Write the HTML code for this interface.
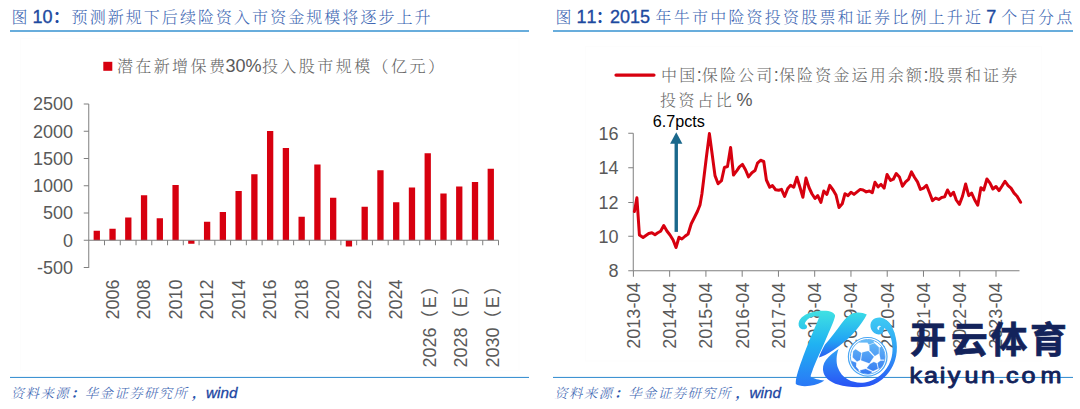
<!DOCTYPE html>
<html lang="zh-CN">
<head>
<meta charset="utf-8">
<title>图10 / 图11</title>
<style>
html,body{margin:0;padding:0;background:#fff;}
body{width:1080px;height:409px;overflow:hidden;position:relative;font-family:"Liberation Sans","Noto Sans CJK SC",sans-serif;}
svg{position:absolute;left:0;top:0;display:block;}
.kai{font-family:"Liberation Serif","Noto Serif CJK SC",serif;font-weight:300;}
.sans{font-family:"Liberation Sans","Noto Sans CJK SC",sans-serif;}
.ttl{font-size:16px;fill:#4067b3;}
.tb{font-family:"Liberation Sans","Noto Sans CJK SC",sans-serif;font-weight:normal;fill:#1d4aa0;stroke:#1d4aa0;stroke-width:0.35px;font-size:18px;}
.tc{font-family:"Liberation Sans","Noto Sans CJK SC",sans-serif;font-weight:bold;fill:#1d4aa0;font-size:16px;}
.src{font-size:13.4px;fill:#4067b3;font-style:italic;}
.sb{font-family:"Liberation Sans","Noto Sans CJK SC",sans-serif;fill:#1b45a2;stroke:#1b45a2;stroke-width:0.3px;font-style:italic;font-size:15.3px;}
.pn{font-weight:bold;fill:#2a55ad;}
.ax text{font-family:"Liberation Sans","Noto Sans CJK SC",sans-serif;font-size:18px;fill:#595959;}
.lg{font-size:16px;fill:#666;}
.ln{font-family:"Liberation Sans","Noto Sans CJK SC",sans-serif;font-size:18px;fill:#5a5a5a;}
</style>
</head>
<body>
<svg width="1080" height="409" viewBox="0 0 1080 409">
<defs>
<linearGradient id="gs" gradientUnits="userSpaceOnUse" x1="0" y1="310" x2="0" y2="386">
<stop offset="0" stop-color="#40e2e2"/><stop offset="0.45" stop-color="#20b2f2"/><stop offset="1" stop-color="#2a78f6"/>
</linearGradient>
<linearGradient id="ga" gradientUnits="userSpaceOnUse" x1="0" y1="312" x2="0" y2="358">
<stop offset="0" stop-color="#3adce6"/><stop offset="0.6" stop-color="#22a6f4"/><stop offset="1" stop-color="#2b5cf2"/>
</linearGradient>
<linearGradient id="gl" gradientUnits="userSpaceOnUse" x1="0" y1="318" x2="0" y2="387">
<stop offset="0" stop-color="#3ecaf3"/><stop offset="0.45" stop-color="#30a2f5"/><stop offset="1" stop-color="#2852f5"/>
</linearGradient>
<linearGradient id="gb" gradientUnits="userSpaceOnUse" x1="0" y1="339" x2="0" y2="375">
<stop offset="0" stop-color="#68bef7"/><stop offset="1" stop-color="#3478f2"/>
</linearGradient>
</defs>
<rect width="1080" height="409" fill="#fff"/>

<!-- chart frames (very faint) -->
<rect x="20.5" y="38.5" width="498.5" height="332" fill="#fff" stroke="#fdfdfd"/>
<rect x="585.5" y="46.5" width="456" height="314.5" fill="#fff" stroke="#fdfdfd"/>

<!-- titles -->
<text class="kai ttl" x="11.40 27.00 32.60 42.61 53.00 71.60 89.65 107.70 125.75 143.80 161.85 179.90 197.95 216.00 234.05 252.10 270.15 288.20 306.25 324.30 342.35 360.40 378.45 396.50 414.55" y="22.9">图 <tspan class="tb">10</tspan><tspan class="tc">：</tspan>预测新规下后续险资入市资金规模将逐步上升</text>
<text class="kai ttl" x="555.40 571.00 576.60 586.61 596.00 610.00 620.01 630.02 640.03 651.00 655.60 673.80 692.00 710.20 728.40 746.60 764.80 783.00 801.20 819.40 837.60 855.80 874.00 892.20 910.40 928.60 946.80 965.00 982.00 986.30 997.00 1001.30 1019.60 1037.90 1056.20" y="22.9">图 <tspan class="tb">11</tspan><tspan class="tc">：</tspan><tspan class="tb">2015</tspan> 年牛市中险资投资股票和证券比例上升近 <tspan class="tb">7</tspan> 个百分点</text>
<rect x="10" y="30" width="519" height="2" fill="#68addc"/>
<rect x="553" y="30" width="520" height="2" fill="#68addc"/>

<!-- bottom rules + source -->
<rect x="10" y="376.9" width="519" height="1.1" fill="#3f93d2"/>
<rect x="553" y="376.9" width="520" height="1.1" fill="#3f93d2"/>
<text class="kai src" x="10.80 25.60 40.40 55.20 70.40 84.80 99.60 114.40 129.20 144.00 158.80 173.60 192.00 206.00" y="398">资料来源<tspan class="pn">：</tspan>华金证券研究所<tspan class="pn">，</tspan><tspan class="sb">wind</tspan></text>
<text class="kai src" x="554.30 569.10 583.90 598.70 613.90 628.30 643.10 657.90 672.70 687.50 702.30 717.10 735.50 749.50" y="398">资料来源<tspan class="pn">：</tspan>华金证券研究所<tspan class="pn">，</tspan><tspan class="sb">wind</tspan></text>

<!-- ================= left chart ================= -->
<rect x="103.3" y="61.8" width="9" height="9" fill="#d7000f"/>
<text class="kai lg" x="116.90 135.30 153.70 172.10 190.50 208.90 225.60 235.61 245.62 261.90 280.35 298.80 317.25 335.70 354.15 372.60 391.05 409.50 427.95" y="72.1">潜在新增保费<tspan class="ln">30%</tspan>投入股市规模（亿元）</text>
<g fill="#d7000f"><rect x="93.63" y="230.75" width="6.3" height="9.50"/><rect x="109.39" y="228.75" width="6.3" height="11.50"/><rect x="125.15" y="217.50" width="6.3" height="22.75"/><rect x="140.91" y="195.25" width="6.3" height="45.00"/><rect x="156.67" y="218.25" width="6.3" height="22.00"/><rect x="172.43" y="185.00" width="6.3" height="55.25"/><rect x="188.19" y="240.25" width="6.3" height="3.50"/><rect x="203.95" y="221.75" width="6.3" height="18.50"/><rect x="219.71" y="212.00" width="6.3" height="28.25"/><rect x="235.47" y="191.00" width="6.3" height="49.25"/><rect x="251.23" y="174.25" width="6.3" height="66.00"/><rect x="266.99" y="131.00" width="6.3" height="109.25"/><rect x="282.75" y="148.00" width="6.3" height="92.25"/><rect x="298.50" y="216.75" width="6.3" height="23.50"/><rect x="314.26" y="164.50" width="6.3" height="75.75"/><rect x="330.02" y="197.75" width="6.3" height="42.50"/><rect x="345.78" y="240.25" width="6.3" height="6.25"/><rect x="361.54" y="206.75" width="6.3" height="33.50"/><rect x="377.30" y="170.25" width="6.3" height="70.00"/><rect x="393.06" y="202.25" width="6.3" height="38.00"/><rect x="408.82" y="187.50" width="6.3" height="52.75"/><rect x="424.58" y="153.25" width="6.3" height="87.00"/><rect x="440.34" y="193.50" width="6.3" height="46.75"/><rect x="456.10" y="186.50" width="6.3" height="53.75"/><rect x="471.86" y="182.00" width="6.3" height="58.25"/><rect x="487.62" y="168.75" width="6.3" height="71.50"/></g>
<path d="M88.75 104V268M88.75 240.25H498.5M83.75 104.00h5M83.75 131.25h5M83.75 158.50h5M83.75 185.75h5M83.75 213.00h5M83.75 240.25h5M83.75 267.50h5M104.51 240.25v5M120.27 240.25v5M136.03 240.25v5M151.79 240.25v5M167.55 240.25v5M183.31 240.25v5M199.07 240.25v5M214.83 240.25v5M230.59 240.25v5M246.35 240.25v5M262.11 240.25v5M277.87 240.25v5M293.62 240.25v5M309.38 240.25v5M325.14 240.25v5M340.90 240.25v5M356.66 240.25v5M372.42 240.25v5M388.18 240.25v5M403.94 240.25v5M419.70 240.25v5M435.46 240.25v5M451.22 240.25v5M466.98 240.25v5M482.74 240.25v5M498.50 240.25v5" stroke="#7f7f7f" stroke-width="1" fill="none"/>
<g class="ax"><text x="73" y="110.40" text-anchor="end">2500</text><text x="73" y="137.65" text-anchor="end">2000</text><text x="73" y="164.90" text-anchor="end">1500</text><text x="73" y="192.15" text-anchor="end">1000</text><text x="73" y="219.40" text-anchor="end">500</text><text x="73" y="246.65" text-anchor="end">0</text><text x="73" y="273.90" text-anchor="end">-500</text><text transform="translate(118.79 279.5) rotate(-90)" text-anchor="end">2006</text><text transform="translate(150.31 279.5) rotate(-90)" text-anchor="end">2008</text><text transform="translate(181.83 279.5) rotate(-90)" text-anchor="end">2010</text><text transform="translate(213.35 279.5) rotate(-90)" text-anchor="end">2012</text><text transform="translate(244.87 279.5) rotate(-90)" text-anchor="end">2014</text><text transform="translate(276.39 279.5) rotate(-90)" text-anchor="end">2016</text><text transform="translate(307.90 279.5) rotate(-90)" text-anchor="end">2018</text><text transform="translate(339.42 279.5) rotate(-90)" text-anchor="end">2020</text><text transform="translate(370.94 279.5) rotate(-90)" text-anchor="end">2022</text><text transform="translate(402.46 279.5) rotate(-90)" text-anchor="end">2024</text><g transform="translate(435.58 0) rotate(-90)"><text x="-327.5" text-anchor="end">2026</text><text x="-328.2" fill="#777">（</text><text x="-308.2" font-size="20">E</text><text x="-294.8" fill="#777">）</text></g><g transform="translate(467.10 0) rotate(-90)"><text x="-327.5" text-anchor="end">2028</text><text x="-328.2" fill="#777">（</text><text x="-308.2" font-size="20">E</text><text x="-294.8" fill="#777">）</text></g><g transform="translate(498.62 0) rotate(-90)"><text x="-327.5" text-anchor="end">2030</text><text x="-328.2" fill="#777">（</text><text x="-308.2" font-size="20">E</text><text x="-294.8" fill="#777">）</text></g></g>

<!-- ================= right chart ================= -->
<path d="M616 75.1H654" stroke="#d7000f" stroke-width="3.2" stroke-linecap="round"/>
<text class="kai lg" x="661.00 679.15 696.70 701.80 719.95 738.10 756.25 773.80 778.90 797.05 815.20 833.35 851.50 869.65 887.80 905.95 923.50 928.60 946.75 964.90 983.05 1001.20" y="81.1">中国<tspan class="ln">:</tspan>保险公司<tspan class="ln">:</tspan>保险资金运用余额<tspan class="ln">:</tspan>股票和证券</text>
<text class="kai lg" x="660.00 678.60 697.20 715.80 732.00 736.60" y="105.6">投资占比 <tspan class="ln">%</tspan></text>
<path d="M633.25 133.25V270.75H1019.5M628.25 133.25h5M628.25 167.75h5M628.25 202.50h5M628.25 236.25h5M628.25 270.75h5M633.40 270.75v6M669.66 270.75v6M705.92 270.75v6M742.18 270.75v6M778.44 270.75v6M814.70 270.75v6M850.96 270.75v6M887.22 270.75v6M923.48 270.75v6M959.74 270.75v6M996.00 270.75v6" stroke="#7f7f7f" stroke-width="1" fill="none"/>
<g class="ax"><text x="618.5" y="139.65" text-anchor="end">16</text><text x="618.5" y="174.15" text-anchor="end">14</text><text x="618.5" y="208.90" text-anchor="end">12</text><text x="618.5" y="242.65" text-anchor="end">10</text><text x="618.5" y="277.15" text-anchor="end">8</text><text transform="translate(639.80 282.6) rotate(-90)" text-anchor="end">2013-04</text><text transform="translate(676.06 282.6) rotate(-90)" text-anchor="end">2014-04</text><text transform="translate(712.32 282.6) rotate(-90)" text-anchor="end">2015-04</text><text transform="translate(748.58 282.6) rotate(-90)" text-anchor="end">2016-04</text><text transform="translate(784.84 282.6) rotate(-90)" text-anchor="end">2017-04</text><text transform="translate(821.10 282.6) rotate(-90)" text-anchor="end">2018-04</text><text transform="translate(857.36 282.6) rotate(-90)" text-anchor="end">2019-04</text><text transform="translate(893.62 282.6) rotate(-90)" text-anchor="end">2020-04</text><text transform="translate(929.88 282.6) rotate(-90)" text-anchor="end">2021-04</text><text transform="translate(966.14 282.6) rotate(-90)" text-anchor="end">2022-04</text><text transform="translate(1002.40 282.6) rotate(-90)" text-anchor="end">2023-04</text></g>
<polyline points="634.40,211.50 636.90,197.75 639.40,235.00 643.10,237.50 645.90,235.50 648.75,233.50 651.90,232.75 655.00,234.75 657.80,232.80 660.60,231.25 663.75,225.60 666.90,231.00 670.00,235.00 673.10,240.00 676.00,247.50 679.00,237.25 681.90,239.00 685.00,236.25 688.10,234.00 691.25,223.75 694.40,217.50 697.50,211.25 700.00,205.00 701.90,194.00 703.50,181.00 706.40,157.00 709.40,133.60 712.20,154.50 715.00,175.60 718.10,183.75 721.50,180.60 724.40,167.50 727.50,166.50 730.60,147.50 733.50,175.00 736.90,170.60 739.40,166.90 742.50,164.40 745.60,170.00 748.50,176.90 751.90,172.75 755.00,170.60 757.50,163.10 760.60,160.25 763.75,161.50 766.40,180.00 769.75,187.25 772.50,185.60 775.60,189.75 778.75,190.25 781.50,189.40 784.60,196.50 787.75,188.50 790.60,185.25 793.75,187.25 796.90,177.25 800.00,187.50 802.90,197.25 806.00,178.10 809.00,187.50 811.90,193.75 815.00,198.50 817.75,195.60 820.90,202.50 823.75,191.00 826.90,194.40 829.75,185.40 833.10,190.00 836.00,195.00 839.00,207.50 842.25,203.75 845.00,193.75 848.10,195.60 851.00,192.25 854.00,194.40 857.10,191.90 860.25,189.40 863.10,190.00 866.25,191.90 869.40,191.00 872.25,192.75 875.00,182.25 878.10,186.90 881.00,184.40 884.10,188.10 887.10,174.40 890.60,180.40 893.30,179.20 896.25,173.50 899.40,176.90 902.50,186.25 905.60,181.90 908.50,179.40 911.50,171.90 914.60,177.50 917.50,181.90 920.40,189.40 923.50,188.10 926.50,185.25 929.40,192.50 932.50,200.60 935.60,198.10 938.75,199.40 941.60,197.50 944.60,196.90 947.50,190.00 950.60,195.60 953.50,192.25 956.25,200.00 959.40,204.40 962.50,196.25 965.60,184.00 968.75,195.60 971.60,193.10 974.75,200.00 977.75,205.25 980.90,187.75 983.75,190.00 986.90,179.00 990.00,183.10 992.90,189.00 996.00,186.50 999.00,190.60 1001.90,186.25 1005.00,181.25 1008.10,185.60 1011.00,188.10 1014.10,193.10 1017.10,196.25 1020.60,202.25" fill="none" stroke="#d7000f" stroke-width="3" stroke-linejoin="round" stroke-linecap="round"/>
<path d="M676.25 231.9V142" stroke="#1a688c" stroke-width="3.4"/>
<path d="M676.25 132.2L682.4 143.8H670.1Z" fill="#1a688c"/>
<text class="sans" x="652.7" y="127" font-size="16.2" fill="#000">6.7pcts</text>

<!-- ================= watermark ================= -->
<g id="wm">
<!-- K stem -->
<path fill="url(#gs)" d="M807 327.2C806.6 329.4 803.2 330.1 800.6 328.5C798.6 327.1 798.1 324 799 321.4C800.5 317.4 805 314.2 811 312.4C818.5 310.4 828 310.3 831.5 311.9C834.3 313.2 835.4 314.8 835 316.5C833.5 322.5 830 329.5 825.8 339.5C821.5 350 815.5 362 813 369C811.7 372.8 810.6 375.6 810.6 376.6C813.5 378.8 819 380.2 824.4 380.5C821 383 816 384.8 810 385.8C804 386.7 798.5 386 795.8 384.1C795.6 381 796.2 378 797 375C799.5 366 804 354 808 344C811.5 335 816.5 324.5 819.3 316.8C816.5 315.6 812.5 316.2 809.5 318C806.5 320 804.8 322.4 804.8 324.2C806.1 324.3 807.2 325.6 807 327.2Z"/>
<!-- K arm -->
<path fill="url(#ga)" d="M866.8 314.4C864.5 319 860.5 325 855 331.5C849 338.5 841 345 833.5 350C827.5 354 822.5 356.5 818.9 357.6C820.5 353.5 822.5 349 825 344.6C830 339 836 331 841.5 323.5C845.5 318 849.5 314.5 853.6 313.1C857.5 311.8 863 312.4 866.8 314.4Z"/>
<!-- K leg + swirl -->
<path fill="url(#gl)" d="M838.6 348.9C834.5 351.5 829.5 355.5 826 360C823 364 822.2 368.5 823.6 373C825.5 378.5 830.5 382.2 838 384.6C846 387 856.5 387.6 865 386.8C871 386 877 383.4 882 379.4C888 374.6 892.5 368 895 360.5C896.8 355 897.3 348.5 896.6 342.5C895.8 336 894 330 891 325C888.5 321 885 318.4 881 317.7C877.5 317.2 874 318.4 872 320.8C870.2 323 870 326.5 871.2 329.3C872.5 332.2 875.5 334.3 878.6 334.6C881.5 334.8 883.5 332.5 884.4 328C886.5 329.5 889 333 890.4 336.5C891.6 339.8 892.3 343.5 892.5 347C892.7 351.5 892.2 356 890.8 360C888.8 366 885 371.5 880 375.6C875.5 379.2 870.5 381.6 865 382.4C859 383.2 853 382.4 848 379.6C843 376.8 839.5 372.4 837.8 367.4C836 362 836.2 355 838.6 348.9Z"/>
<path fill="#eef9ff" d="M881.2 326.2C879.8 325.2 878 325.6 877.4 327.2C876.9 328.8 877.8 330 879.3 330C878.6 328.6 879.3 326.8 881.2 326.2Z"/>
<!-- ball -->
<clipPath id="bc"><circle cx="867.7" cy="356.8" r="17.3"/></clipPath>
<circle cx="867.7" cy="356.8" r="19.3" fill="#fff" stroke="#4aa6f4" stroke-width="1.2"/>
<circle cx="867.7" cy="356.8" r="17.3" fill="#fff" stroke="#4aa6f4" stroke-width="0.9"/>
<g fill="url(#gb)" clip-path="url(#bc)" stroke="url(#gb)" stroke-width="0.2" stroke-linejoin="round">
<polygon points="862.3,352.6 868.4,351.1 873.8,356.7 869.3,363.3 861.1,360.2"/>
<polygon points="869.4,345.0 874.5,343.3 878.8,347.2 878.8,353.5 874.8,356.0 869.7,350.3"/>
<polygon points="853.2,351.3 855.5,349.3 861.3,353.1 860.0,360.0 857.0,361.5 852.7,357.3"/>
<polygon points="859.2,342.5 862.6,339.7 873.1,339.9 874.0,342.7 868.9,344.5 867.4,342.5"/>
<polygon points="879.6,347.5 882.9,346.5 886.5,355.4 884.9,359.5 880.6,359.5 879.6,354.1"/>
<polygon points="880.6,360.7 884.9,360.7 883.2,366.6 878.8,368.8 877.6,363.0"/>
<polygon points="870.0,364.1 873.8,362.0 876.6,363.3 877.8,368.8 873.1,370.9 866.9,368.1"/>
<polygon points="851.1,360.7 856.2,362.8 856.0,366.8 858.8,369.9 857.8,371.7 852.7,366.8"/>
<polygon points="860.0,370.4 865.6,368.9 872.2,371.9 869.2,374.2 861.3,372.9"/>
</g>
</g>
<g font-family='"Liberation Sans","Noto Sans CJK SC",sans-serif' font-weight="700" fill="#13235b" stroke="#13235b" stroke-width="0.7" font-size="36.8">
<text x="909.6 951 990.4 1030" y="352.8">开云体育</text>
</g>
<g transform="translate(0 382.6) scale(1.12 1)"><text x="812.05 825.00 839.02 846.25 861.16 875.89 890.85 898.21 912.05 929.02" y="0" font-family='"Liberation Sans",sans-serif' font-weight="normal" font-size="22.5" fill="#13235b" stroke="#13235b" stroke-width="0.9" stroke-linejoin="round">kaiyun.com</text></g>
</svg>
</body>
</html>
